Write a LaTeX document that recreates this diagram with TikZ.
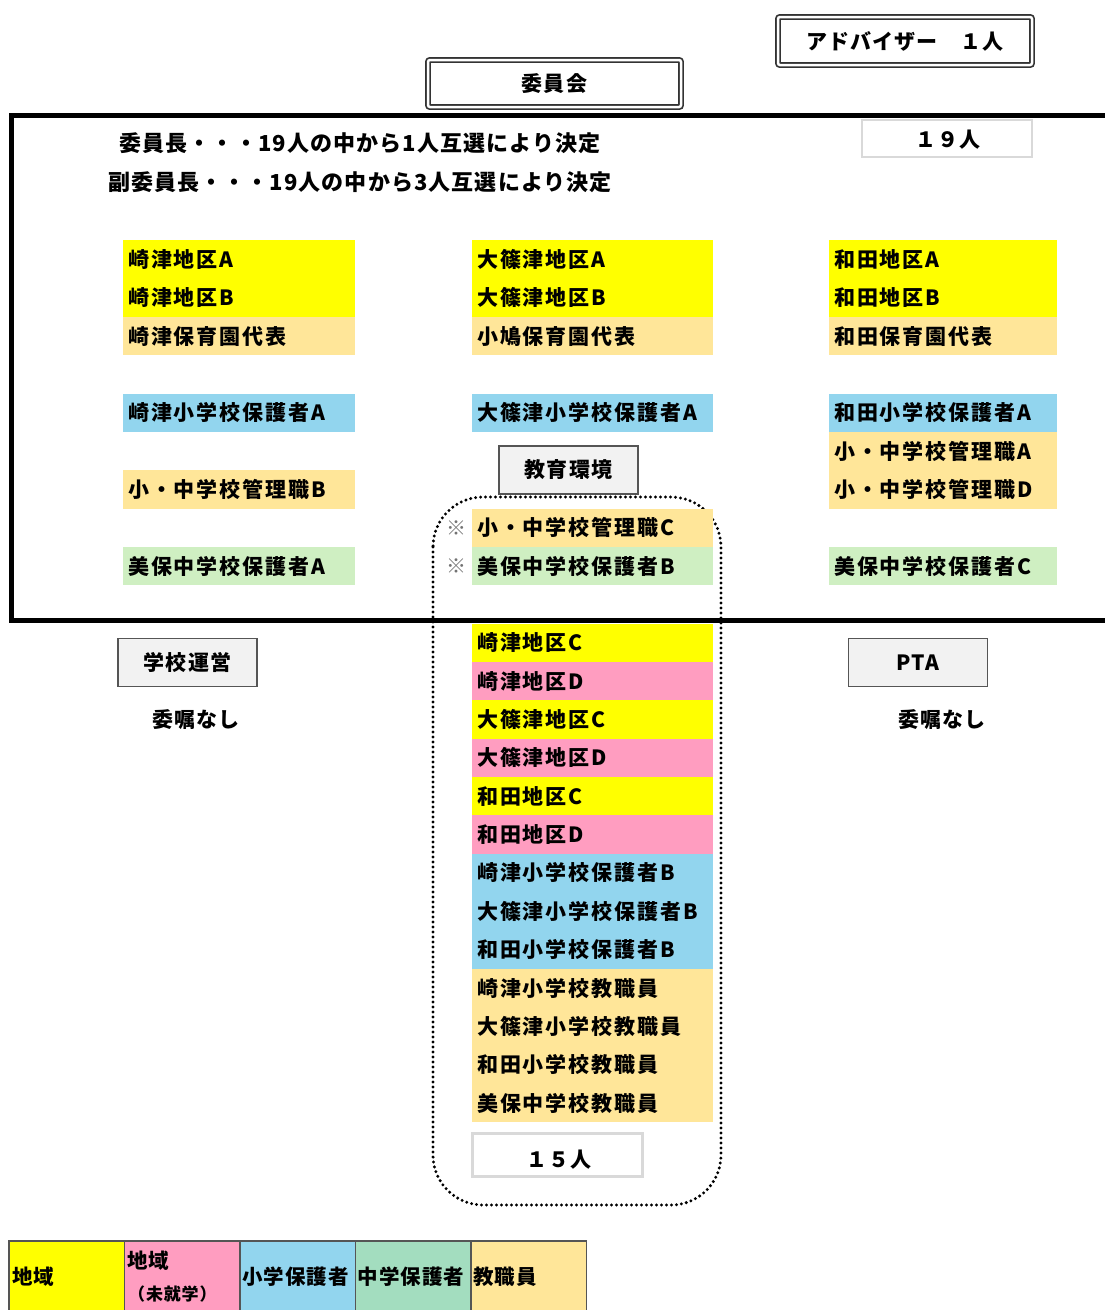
\documentclass[tikz,border=0pt]{standalone}
\usepackage{fontspec}
\setmainfont{Noto Sans CJK JP}
\newfontfamily\jpcell{Noto Sans CJK JP}[LetterSpace=9]
\newfontfamily\jphead{Noto Sans CJK JP}[LetterSpace=5]
\definecolor{cY}{HTML}{FFFF00}
\definecolor{cT}{HTML}{FFE699}
\definecolor{cB}{HTML}{92D5EE}
\definecolor{cG}{HTML}{CFEFC2}
\definecolor{cP}{HTML}{FF9DC0}
\definecolor{cLG}{HTML}{A3DDBF}
\definecolor{cBox}{HTML}{F2F2F2}
\definecolor{cBorder}{HTML}{555555}
\begin{document}
\begin{tikzpicture}[x=1pt,y=-1pt,
  cfont/.style={font=\jpcell\fontsize{21}{24}\selectfont\bfseries},
  cellL/.style={cfont, anchor=north west, inner xsep=5pt, inner ysep=0pt, minimum height=38.35pt, text width=222pt, align=left, fill=#1},
  cellM/.style={cfont, anchor=north west, inner xsep=5pt, inner ysep=0pt, minimum height=38.35pt, text width=231pt, align=left, fill=#1},
  cellR/.style={cfont, anchor=north west, inner xsep=5pt, inner ysep=0pt, minimum height=38.35pt, text width=218pt, align=left, fill=#1},
  dbox/.style={font=\jphead\fontsize{21}{24}\selectfont\bfseries, draw=black!80, double=white, double distance=2.5pt, line width=1.7pt, rounded corners=2pt},
  graybox/.style={font=\jphead\fontsize{21}{24}\selectfont\bfseries, draw=cBorder, line width=1.5pt, fill=cBox, minimum width=139pt, minimum height=48pt, inner sep=0pt},
  countbox/.style={draw=black!15, line width=2.5pt, fill=white, inner sep=0pt},
  counttext/.style={inner sep=0pt, font=\jphead\fontsize{21}{24}\selectfont\bfseries},
  legend/.style={anchor=north west, draw=cBorder, line width=1.5pt, minimum width=115.5pt, minimum height=72pt, inner sep=0pt, fill=#1},
  ltext/.style={anchor=west, inner sep=0pt, font=\jphead\fontsize{20.5}{23}\selectfont\bfseries},
  plain/.style={inner sep=0pt, font=\jphead\fontsize{21}{24}\selectfont\bfseries}
]
\useasboundingbox (0,0) rectangle (1105,1310);

% top boxes
\node[dbox, minimum width=254pt, minimum height=48pt] (adv) at (905,41) {アドバイザー　１人};
\node[dbox, minimum width=253pt, minimum height=47pt] (iinkai) at (554.5,83.5) {委員会};

% dotted region
\draw[line width=3.3pt, line cap=round, dash pattern=on 0pt off 5pt, rounded corners=50pt] (433,497) rectangle (721,1205);

% main frame
\draw[line width=5pt, line join=miter] (1112,115) -- (11,115) -- (11,620) -- (1112,620);

% 19 count
\node[countbox, minimum width=170pt, minimum height=37pt] (n19) at (947,138.5) {};
\node[counttext] (n19t) at (948,140) {１９人};

% description
\node[plain, font=\jphead\fontsize{22}{24}\selectfont\bfseries] (t1) at (360,143) {委員長・・・19人の中から1人互選により決定};
\node[plain, font=\jphead\fontsize{22}{24}\selectfont\bfseries] (t2) at (360,182) {副委員長・・・19人の中から3人互選により決定};

% left column
\node[cellL=cY] (l1) at (123,240) {崎津地区A};
\node[cellL=cY] (l2) at (123,278.35) {崎津地区B};
\node[cellL=cT] (l3) at (123,316.7) {崎津保育園代表};
\node[cellL=cB] (l4) at (123,393.4) {崎津小学校保護者A};
\node[cellL=cT] (l5) at (123,470.1) {小・中学校管理職B};
\node[cellL=cG] (l6) at (123,546.8) {美保中学校保護者A};

% middle column
\node[cellM=cY] (m1) at (472,240) {大篠津地区A};
\node[cellM=cY] (m2) at (472,278.35) {大篠津地区B};
\node[cellM=cT] (m3) at (472,316.7) {小鳩保育園代表};
\node[cellM=cB] (m4) at (472,393.4) {大篠津小学校保護者A};
\node[graybox] (kyoiku) at (568.5,470) {教育環境};
\node[cellM=cT] (m5) at (472,508.45) {小・中学校管理職C};
\node[cellM=cG] (m6) at (472,546.8) {美保中学校保護者B};
\node[inner sep=0pt, text=black!55, font=\fontsize{20}{22}\selectfont] (k1) at (456,528) {※};
\node[inner sep=0pt, text=black!55, font=\fontsize{20}{22}\selectfont] (k2) at (456,566) {※};

\node[cellM=cY] (m7) at (472,623.5) {崎津地区C};
\node[cellM=cP] (m8) at (472,661.85) {崎津地区D};
\node[cellM=cY] (m9) at (472,700.2) {大篠津地区C};
\node[cellM=cP] (m10) at (472,738.55) {大篠津地区D};
\node[cellM=cY] (m11) at (472,776.9) {和田地区C};
\node[cellM=cP] (m12) at (472,815.25) {和田地区D};
\node[cellM=cB] (m13) at (472,853.6) {崎津小学校保護者B};
\node[cellM=cB] (m14) at (472,891.95) {大篠津小学校保護者B};
\node[cellM=cB] (m15) at (472,930.3) {和田小学校保護者B};
\node[cellM=cT] (m16) at (472,968.65) {崎津小学校教職員};
\node[cellM=cT] (m17) at (472,1007) {大篠津小学校教職員};
\node[cellM=cT] (m18) at (472,1045.35) {和田小学校教職員};
\node[cellM=cT] (m19) at (472,1083.7) {美保中学校教職員};
\node[countbox, minimum width=170pt, minimum height=43pt] (n15) at (557.5,1155) {};
\node[counttext] (n15t) at (559,1160) {１５人};

% right column
\node[cellR=cY] (r1) at (829,240) {和田地区A};
\node[cellR=cY] (r2) at (829,278.35) {和田地区B};
\node[cellR=cT] (r3) at (829,316.7) {和田保育園代表};
\node[cellR=cB] (r4) at (829,393.4) {和田小学校保護者A};
\node[cellR=cT] (r5) at (829,431.75) {小・中学校管理職A};
\node[cellR=cT] (r6) at (829,470.1) {小・中学校管理職D};
\node[cellR=cG] (r7) at (829,546.8) {美保中学校保護者C};

% lower side boxes
\node[graybox] (gakko) at (187.5,662.5) {学校運営};
\node[plain] (gakkoN) at (196,720) {委嘱なし};
\node[graybox] (pta) at (918,662.5) {PTA};
\node[plain] (ptaN) at (942,720) {委嘱なし};

% legend
\node[legend=cY] (lg1) at (8,1240) {};
\node[legend=cP] (lg2) at (123.5,1240) {};
\node[legend=cB] (lg3) at (239,1240) {};
\node[legend=cLG] (lg4) at (354.5,1240) {};
\node[legend=cT] (lg5) at (470,1240) {};
\node[ltext] (lt1) at (12,1277) {地域};
\node[ltext] (lt2) at (127,1261) {地域};
\node[ltext, font=\jphead\fontsize{17}{19}\selectfont\bfseries] (lt2b) at (128,1294) {（未就学）};
\node[ltext] (lt3) at (242,1277) {小学保護者};
\node[ltext] (lt4) at (357.5,1277) {中学保護者};
\node[ltext] (lt5) at (473,1277) {教職員};
\end{tikzpicture}
\end{document}
